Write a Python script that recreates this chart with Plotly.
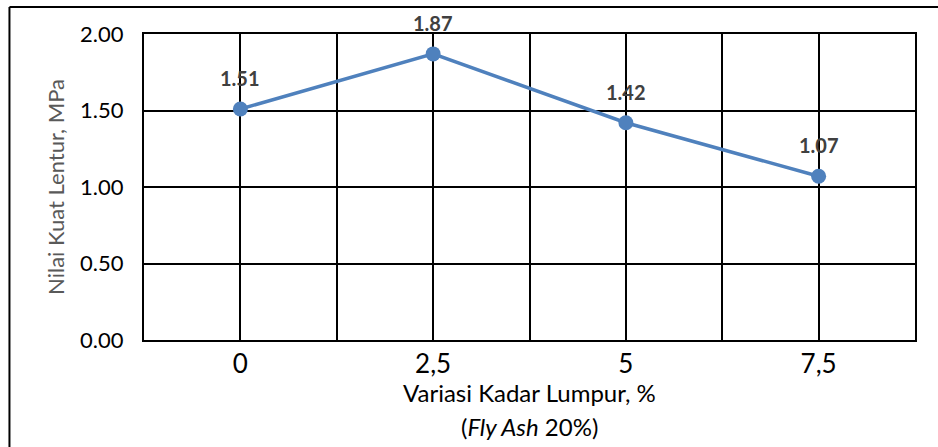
import plotly.graph_objects as go

# Flexural strength versus mud content (fly ash 20%)
categories = ["0", "2,5", "5", "7,5"]
strength = [1.51, 1.87, 1.42, 1.07]
y_ticks = [0.0, 0.5, 1.0, 1.5, 2.0]

FONT = "Lato"
BLUE = "#4F81BD"

pos = list(range(len(categories)))

# category positions plus the boundaries between categories (gridlines at both)
tickvals = []
ticktext = []
for i, c in enumerate(categories):
    tickvals.append(i - 0.5)
    ticktext.append("")
    tickvals.append(i)
    ticktext.append(c)
tickvals.append(len(categories) - 0.5)
ticktext.append("")

fig = go.Figure()
fig.add_trace(go.Scatter(
    x=pos, y=strength, mode="lines+markers",
    line=dict(color=BLUE, width=3.5),
    marker=dict(color=BLUE, size=15),
    hoverinfo="skip", showlegend=False,
))

# value labels above each point
for xi, v in zip(pos, strength):
    fig.add_annotation(
        x=xi, y=v, text=f"<b>{v:.2f}</b>", showarrow=False,
        yshift=31, font=dict(family=FONT, size=20, color="#404040"),
    )

# axis title lines
fig.add_annotation(
    xref="paper", yref="paper", x=0.5, y=-0.173, yanchor="middle",
    text="Variasi Kadar Lumpur, %", showarrow=False,
    font=dict(family=FONT, size=24, color="#000000"),
)
fig.add_annotation(
    xref="paper", yref="paper", x=0.5, y=-0.284, yanchor="middle",
    text="(<i>Fly Ash</i> 20%)", showarrow=False,
    font=dict(family=FONT, size=24, color="#000000"),
)

# outer frame (left and top edges visible)
fig.add_shape(type="line", xref="paper", yref="paper",
              x0=-0.1745, x1=-0.1745, y0=-0.4, y1=1.088,
              line=dict(color="black", width=2))
fig.add_shape(type="line", xref="paper", yref="paper",
              x0=-0.1745, x1=1.1, y0=1.088, y1=1.088,
              line=dict(color="black", width=2))

fig.update_xaxes(
    range=[-0.5, len(categories) - 0.5],
    tickmode="array", tickvals=tickvals, ticktext=ticktext,
    showgrid=True, gridcolor="black", gridwidth=2,
    showline=True, linecolor="black", linewidth=2, mirror=True,
    ticks="", zeroline=False,
    tickfont=dict(family=FONT, size=26, color="#000000"),
)
fig.update_yaxes(
    range=[0, 2], tickmode="array", tickvals=y_ticks,
    ticktext=[f"{t:.2f}" for t in y_ticks],
    showgrid=True, gridcolor="black", gridwidth=2,
    showline=True, linecolor="black", linewidth=2, mirror=True,
    ticks="", zeroline=False,
    ticklabelstandoff=14,
    tickfont=dict(family=FONT, size=22, color="#000000"),
    title=dict(text="Nilai Kuat Lentur, MPa", standoff=9,
               font=dict(family=FONT, size=22, color="#595959")),
)

fig.update_layout(
    width=938, height=447,
    margin=dict(l=144, r=23, t=34, b=107),
    paper_bgcolor="white", plot_bgcolor="white",
)

fig.write_html("out.html")
